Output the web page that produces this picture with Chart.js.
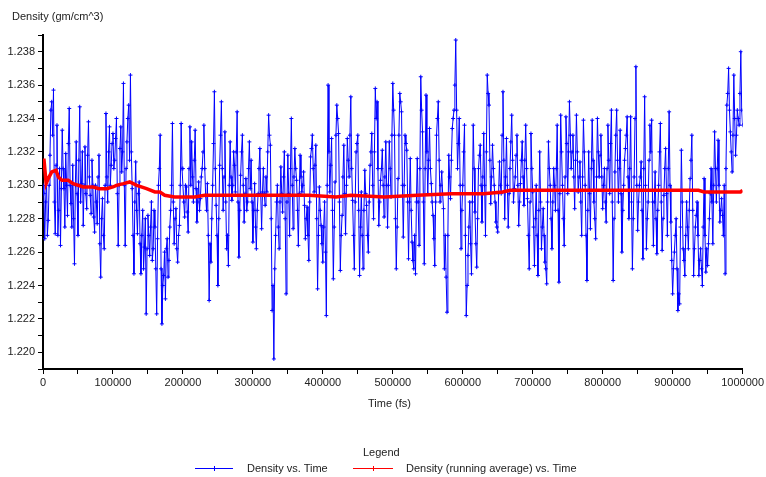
<!DOCTYPE html>
<html>
<head>
<meta charset="utf-8">
<script src="https://cdn.jsdelivr.net/npm/chart.js@4.4.1/dist/chart.umd.min.js"></script>
<style>
  body { margin: 0; background: #fff; }
  #wrap { position: relative; width: 766px; height: 477px; font-family: 'Liberation Sans', Arial, sans-serif; font-size: 11px; color: #222; }
  #chart { position: absolute; left: 0; top: 0; }
  .lbl { position: absolute; white-space: nowrap; line-height: 13px; }
  .key { position: absolute; height: 1px; }
  .key i { position: absolute; left: 50%; top: -2px; width: 1px; height: 5px; }
</style>
</head>
<body>
<div id="wrap">
  <canvas id="chart" width="766" height="477"></canvas>
  <div class="lbl" style="left:12px; top:10px;">Density (gm/cm^3)</div>
  <div class="lbl" style="left:368px; top:397px;">Time (fs)</div>
  <div class="lbl" style="left:363px; top:446px;">Legend</div>
  <div class="key" style="left:195px; top:468px; width:38px; background:#0000ff;"><i style="background:#0000ff;"></i></div>
  <div class="lbl" style="left:247px; top:462px;">Density vs. Time</div>
  <div class="key" style="left:353px; top:468px; width:40px; background:#ff0000;"><i style="background:#ff0000;"></i></div>
  <div class="lbl" style="left:406px; top:462px;">Density (running average) vs. Time</div>
</div>
<script>
  // samples at 0, 2500, 5000 ... 1000000 fs
  const sampleStepFs = 2500;
  const density = [
    1.2300, 1.2268, 1.2305, 1.2279, 1.2318, 1.2350, 1.2357, 1.2271, 1.2336, 1.2285,
    1.2264, 1.2333, 1.2298, 1.2319, 1.2282, 1.2346, 1.2289, 1.2312, 1.2253, 1.2326,
    1.2270, 1.2347, 1.2301, 1.2276, 1.2323, 1.2286, 1.2338, 1.2294, 1.2315, 1.2281,
    1.2300, 1.2277, 1.2318, 1.2245, 1.2292, 1.2262, 1.2343, 1.2290, 1.2335, 1.2312,
    1.2331, 1.2315, 1.2340, 1.2264, 1.2322, 1.2308, 1.2361, 1.2264, 1.2326, 1.2348,
    1.2366, 1.2298, 1.2247, 1.2314, 1.2271, 1.2302, 1.2247, 1.2285, 1.2263, 1.2223,
    1.2282, 1.2258, 1.2290, 1.2262, 1.2275, 1.2223, 1.2300, 1.2330, 1.2217, 1.2246,
    1.2232, 1.2268, 1.2255, 1.2285, 1.2337, 1.2265, 1.2286, 1.2254, 1.2276, 1.2337,
    1.2310, 1.2281, 1.2299, 1.2272, 1.2335, 1.2326, 1.2290, 1.2333, 1.2278, 1.2302,
    1.2292, 1.2310, 1.2336, 1.2294, 1.2301, 1.2231, 1.2254, 1.2300, 1.2356, 1.2288,
    1.2240, 1.2312, 1.2350, 1.2285, 1.2332, 1.2262, 1.2252, 1.2326, 1.2291, 1.2320,
    1.2296, 1.2344, 1.2257, 1.2306, 1.2330, 1.2278, 1.2304, 1.2290, 1.2326, 1.2315,
    1.2266, 1.2301, 1.2262, 1.2295, 1.2322, 1.2274, 1.2310, 1.2288, 1.2296, 1.2342,
    1.2324, 1.2225, 1.2196, 1.2270, 1.2300, 1.2262, 1.2311, 1.2284, 1.2320, 1.2235,
    1.2318, 1.2270, 1.2340, 1.2274, 1.2322, 1.2303, 1.2264, 1.2318, 1.2296, 1.2308,
    1.2268, 1.2287, 1.2255, 1.2317, 1.2330, 1.2296, 1.2324, 1.2238, 1.2299, 1.2276,
    1.2254, 1.2290, 1.2222, 1.2360, 1.2296, 1.2328, 1.2244, 1.2302, 1.2348, 1.2331,
    1.2249, 1.2282, 1.2324, 1.2271, 1.2328, 1.2305, 1.2353, 1.2291, 1.2250, 1.2320,
    1.2330, 1.2246, 1.2296, 1.2250, 1.2309, 1.2288, 1.2260, 1.2312, 1.2331, 1.2280,
    1.2358, 1.2350, 1.2276, 1.2303, 1.2321, 1.2281, 1.2326, 1.2275, 1.2326, 1.2293,
    1.2361, 1.2330, 1.2250, 1.2304, 1.2355, 1.2344, 1.2269, 1.2330, 1.2321, 1.2256,
    1.2316, 1.2266, 1.2250, 1.2247, 1.2316, 1.2264, 1.2365, 1.2332, 1.2253, 1.2354,
    1.2295, 1.2334, 1.2301, 1.2282, 1.2252, 1.2330, 1.2350, 1.2290, 1.2308, 1.2286,
    1.2270, 1.2224, 1.2318, 1.2292, 1.2334, 1.2345, 1.2387, 1.2310, 1.2340, 1.2262,
    1.2300, 1.2336, 1.2222, 1.2258, 1.2290, 1.2247, 1.2336, 1.2284, 1.2251, 1.2310,
    1.2324, 1.2278, 1.2331, 1.2270, 1.2366, 1.2348, 1.2289, 1.2324, 1.2300, 1.2278,
    1.2272, 1.2314, 1.2295, 1.2356, 1.2280, 1.2328, 1.2275, 1.2310, 1.2342, 1.2290,
    1.2305, 1.2330, 1.2276, 1.2301, 1.2326, 1.2288, 1.2336, 1.2292, 1.2250, 1.2331,
    1.2296, 1.2252, 1.2300, 1.2246, 1.2320, 1.2262, 1.2286, 1.2254, 1.2241, 1.2326,
    1.2300, 1.2262, 1.2310, 1.2285, 1.2336, 1.2242, 1.2342, 1.2300, 1.2264, 1.2341,
    1.2295, 1.2350, 1.2310, 1.2330, 1.2286, 1.2342, 1.2296, 1.2314, 1.2270, 1.2339,
    1.2300, 1.2243, 1.2320, 1.2274, 1.2339, 1.2290, 1.2268, 1.2340, 1.2305, 1.2330,
    1.2286, 1.2310, 1.2278, 1.2336, 1.2295, 1.2345, 1.2243, 1.2308, 1.2345, 1.2290,
    1.2333, 1.2260, 1.2300, 1.2322, 1.2341, 1.2280, 1.2341, 1.2250, 1.2305, 1.2371,
    1.2273, 1.2300, 1.2314, 1.2256, 1.2353, 1.2262, 1.2290, 1.2336, 1.2339, 1.2264,
    1.2308, 1.2259, 1.2300, 1.2337, 1.2261, 1.2294, 1.2322, 1.2270, 1.2344, 1.2278,
    1.2235, 1.2260, 1.2280, 1.2225, 1.2229, 1.2321, 1.2262, 1.2246, 1.2290, 1.2262,
    1.2304, 1.2330, 1.2246, 1.2275, 1.2290, 1.2246, 1.2262, 1.2240, 1.2304, 1.2248,
    1.2252, 1.2280, 1.2310, 1.2265, 1.2332, 1.2290, 1.2327, 1.2278, 1.2292, 1.2270,
    1.2247, 1.2348, 1.2370, 1.2332, 1.2308, 1.2366, 1.2318, 1.2345, 1.2336, 1.2380,
    1.2336
  ];
  // in-between samples at 1250, 3750 ... 998750 fs
  const densityMid = [
    1.2295, 1.2290, 1.2270, 1.2300, 1.2345, 1.2330, 1.2290, 1.2312, 1.2270, 1.2310,
    1.2298, 1.2310, 1.2275, 1.2300, 1.2325, 1.2300, 1.2275, 1.2280, 1.2300, 1.2295,
    1.2315, 1.2290, 1.2320, 1.2300, 1.2295, 1.2318, 1.2305, 1.2283, 1.2300, 1.2272,
    1.2290, 1.2305, 1.2265, 1.2280, 1.2270, 1.2300, 1.2305, 1.2320, 1.2300, 1.2325,
    1.2310, 1.2328, 1.2295, 1.2300, 1.2335, 1.2320, 1.2300, 1.2310, 1.2340, 1.2315,
    1.2320, 1.2270, 1.2290, 1.2285, 1.2295, 1.2265, 1.2270, 1.2250, 1.2280, 1.2262,
    1.2270, 1.2275, 1.2255, 1.2285, 1.2250, 1.2268, 1.2310, 1.2250, 1.2240, 1.2260,
    1.2262, 1.2245, 1.2275, 1.2300, 1.2290, 1.2280, 1.2262, 1.2270, 1.2300, 1.2310,
    1.2290, 1.2300, 1.2284, 1.2310, 1.2300, 1.2305, 1.2315, 1.2298, 1.2290, 1.2285,
    1.2305, 1.2320, 1.2310, 1.2285, 1.2270, 1.2265, 1.2280, 1.2325, 1.2310, 1.2270,
    1.2280, 1.2330, 1.2310, 1.2305, 1.2290, 1.2270, 1.2300, 1.2305, 1.2300, 1.2312,
    1.2320, 1.2290, 1.2285, 1.2320, 1.2300, 1.2295, 1.2285, 1.2310, 1.2298, 1.2290,
    1.2285, 1.2275, 1.2285, 1.2310, 1.2295, 1.2296, 1.2295, 1.2305, 1.2320, 1.2330,
    1.2280, 1.2240, 1.2250, 1.2290, 1.2275, 1.2290, 1.2295, 1.2305, 1.2280, 1.2290,
    1.2295, 1.2310, 1.2300, 1.2305, 1.2310, 1.2285, 1.2295, 1.2305, 1.2300, 1.2288,
    1.2280, 1.2270, 1.2290, 1.2322, 1.2310, 1.2312, 1.2280, 1.2270, 1.2285, 1.2265,
    1.2275, 1.2260, 1.2300, 1.2320, 1.2312, 1.2285, 1.2275, 1.2330, 1.2340, 1.2290,
    1.2270, 1.2305, 1.2295, 1.2300, 1.2315, 1.2330, 1.2310, 1.2270, 1.2290, 1.2325,
    1.2285, 1.2275, 1.2270, 1.2285, 1.2295, 1.2270, 1.2290, 1.2320, 1.2300, 1.2320,
    1.2340, 1.2310, 1.2290, 1.2310, 1.2300, 1.2305, 1.2300, 1.2300, 1.2310, 1.2330,
    1.2345, 1.2280, 1.2275, 1.2330, 1.2350, 1.2300, 1.2300, 1.2325, 1.2290, 1.2290,
    1.2285, 1.2255, 1.2270, 1.2290, 1.2290, 1.2310, 1.2345, 1.2290, 1.2310, 1.2320,
    1.2315, 1.2310, 1.2290, 1.2268, 1.2290, 1.2340, 1.2315, 1.2300, 1.2295, 1.2250,
    1.2245, 1.2270, 1.2305, 1.2315, 1.2340, 1.2360, 1.2345, 1.2325, 1.2300, 1.2285,
    1.2320, 1.2270, 1.2240, 1.2275, 1.2265, 1.2290, 1.2310, 1.2265, 1.2280, 1.2318,
    1.2300, 1.2305, 1.2300, 1.2320, 1.2355, 1.2315, 1.2305, 1.2310, 1.2290, 1.2275,
    1.2295, 1.2300, 1.2330, 1.2315, 1.2305, 1.2300, 1.2295, 1.2326, 1.2315, 1.2298,
    1.2318, 1.2300, 1.2290, 1.2315, 1.2305, 1.2315, 1.2310, 1.2270, 1.2290, 1.2310,
    1.2275, 1.2280, 1.2270, 1.2285, 1.2290, 1.2275, 1.2270, 1.2250, 1.2290, 1.2310,
    1.2280, 1.2290, 1.2300, 1.2310, 1.2285, 1.2295, 1.2320, 1.2280, 1.2305, 1.2325,
    1.2320, 1.2330, 1.2320, 1.2305, 1.2315, 1.2320, 1.2305, 1.2290, 1.2305, 1.2320,
    1.2270, 1.2285, 1.2295, 1.2310, 1.2315, 1.2280, 1.2305, 1.2320, 1.2318, 1.2305,
    1.2300, 1.2290, 1.2310, 1.2315, 1.2325, 1.2290, 1.2280, 1.2330, 1.2315, 1.2310,
    1.2295, 1.2285, 1.2315, 1.2330, 1.2305, 1.2310, 1.2290, 1.2280, 1.2340, 1.2300,
    1.2290, 1.2305, 1.2285, 1.2310, 1.2300, 1.2280, 1.2315, 1.2320, 1.2290, 1.2290,
    1.2280, 1.2285, 1.2320, 1.2290, 1.2280, 1.2310, 1.2295, 1.2310, 1.2300, 1.2255,
    1.2250, 1.2270, 1.2250, 1.2235, 1.2275, 1.2290, 1.2255, 1.2270, 1.2275, 1.2285,
    1.2315, 1.2285, 1.2262, 1.2282, 1.2270, 1.2255, 1.2250, 1.2275, 1.2270, 1.2262,
    1.2265, 1.2295, 1.2290, 1.2300, 1.2310, 1.2310, 1.2300, 1.2285, 1.2282, 1.2300,
    1.2310, 1.2355, 1.2345, 1.2320, 1.2330, 1.2340, 1.2330, 1.2340, 1.2355, 1.2345
  ];

  const avgTimes = [
    0, 1500, 3000, 4500, 7500, 12500, 18500, 22000, 27000, 36000,
    43000, 57500, 72000, 80000, 91000, 100000, 105000, 115000, 124000, 134000,
    148000, 160000, 167000, 174000, 188000, 217000, 231000, 280000, 330000, 380000,
    419000, 440000, 488000, 535000, 583000, 630000, 657000, 668000, 700000, 760000,
    814000, 880000, 937000, 945000, 997000, 1000000
  ];
  const avgDensity = [
    1.2315, 1.2315, 1.2308, 1.2301, 1.2304, 1.2308, 1.2309, 1.2305, 1.2303, 1.2303,
    1.2301, 1.2299, 1.2299, 1.2298, 1.2298, 1.2299, 1.2300, 1.2301, 1.2302, 1.2300,
    1.2298, 1.2296, 1.2296, 1.2294, 1.2293, 1.2293, 1.2294, 1.2294, 1.2294, 1.2294,
    1.2293, 1.2294, 1.2293, 1.2294, 1.2295, 1.2295, 1.2296, 1.2297, 1.2297, 1.2297,
    1.2297, 1.2297, 1.2297, 1.2296, 1.2296, 1.2297
  ];

  const xTickStep = 50000;
  const yTickStep = 0.001;
  const fontFamily = "'Liberation Sans', Arial, sans-serif";

  const blueData = density.map((v, i) => ({ x: i * sampleStepFs, y: v }))
    .concat(densityMid.map((v, i) => ({ x: i * sampleStepFs + sampleStepFs / 2, y: v })))
    .sort((a, b) => a.x - b.x);
  const redData = avgTimes.map((t, i) => ({ x: t, y: avgDensity[i] }));

  new Chart(document.getElementById('chart'), {
    type: 'line',
    data: {
      datasets: [
        {
          label: 'Density (running average) vs. Time', data: redData, order: 0,
          borderColor: '#ff0000', borderWidth: 3.5, pointRadius: 0, tension: 0
        },
        {
          label: 'Density vs. Time', data: blueData, order: 1,
          borderColor: '#0000ff', borderWidth: 1, tension: 0,
          pointStyle: 'cross', pointRadius: 2, pointBorderWidth: 1, pointBorderColor: '#0000ff'
        }
      ]
    },
    options: {
      responsive: false, animation: false,
      layout: { padding: { left: 0, top: 35, right: 22, bottom: 88 } },
      plugins: { legend: { display: false }, tooltip: { enabled: false } },
      scales: {
        x: {
          type: 'linear', min: 0, max: 1000000,
          afterFit: s => { s.height = 20; },
          ticks: {
            stepSize: xTickStep, autoSkip: false, maxRotation: 0, padding: 2, color: '#222',
            font: { family: fontFamily, size: 11 },
            callback: v => (v % 100000 === 0 ? String(v) : '')
          },
          grid: { drawOnChartArea: false, drawTicks: true, tickLength: 5, color: '#000' },
          border: { color: '#000', width: 2 }
        },
        y: {
          min: 1.219, max: 1.239,
          afterFit: s => { s.width = 43; },
          ticks: {
            stepSize: yTickStep, autoSkip: false, padding: 3, color: '#222',
            font: { family: fontFamily, size: 11 },
            callback: v => (Math.round(v * 1000) % 2 === 0 ? v.toFixed(3) : '')
          },
          grid: { drawOnChartArea: false, drawTicks: true, tickLength: 5, color: '#000' },
          border: { color: '#000', width: 2 }
        }
      }
    }
  });
</script>
</body>
</html>
